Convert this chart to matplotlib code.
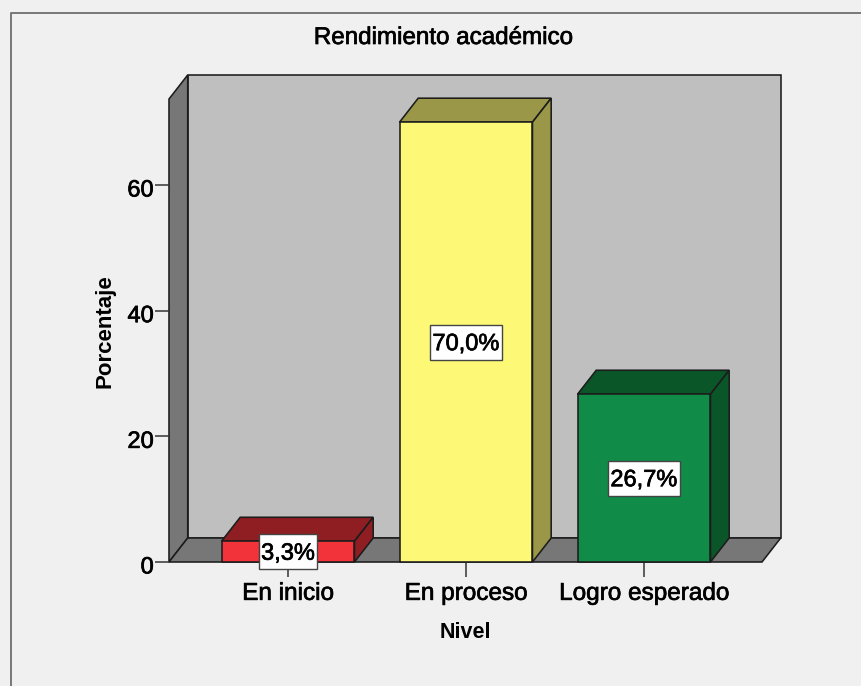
import matplotlib
matplotlib.use('Agg')
import matplotlib.pyplot as plt
import matplotlib.patheffects as pe
from matplotlib.lines import Line2D
from matplotlib.path import Path
from matplotlib.transforms import ScaledTranslation

plt.rcParams['font.family'] = ['Liberation Sans', 'DejaVu Sans']

categories = ['En inicio', 'En proceso', 'Logro esperado']
values = [3.3, 70.0, 26.7]
labels = ['3,3%', '70,0%', '26,7%']
y_ticks = [0, 20, 40, 60]
front_colors = ['#f23339', '#fdf976', '#108c48']
top_colors = ['#8f1e22', '#9a9848', '#0a5628']

W, H = 861, 686
LINE = '#1c1c1c'
LW = 1.15
FS = 17
heavy = [pe.withStroke(linewidth=0.5, foreground='black')]

# front plane of the 3d box, in pixels
left, right, bottom, top = 169, 762, 562, 99
y_max = (bottom - top) / 6.283
bar_w = 0.747
dx = 18.7 / 178   # depth in category units
dy = 24 / 6.283   # depth in percent units

fig = plt.figure(figsize=(W / 100, H / 100), dpi=100, facecolor='#f0f0f0')
ax = fig.add_axes([left / W, 1 - bottom / H, (right - left) / W, (bottom - top) / H])
ax.set_xlim(-119 / 178, 2 + 118 / 178)
ax.set_ylim(0, y_max)
ax.patch.set_visible(False)
for s in ax.spines.values():
    s.set_visible(False)

x0, x1 = ax.get_xlim()


def face(xs, ys, color, z):
    ax.fill(xs, ys, facecolor=color, edgecolor=LINE, linewidth=LW, zorder=z,
            clip_on=False, joinstyle='miter')


def label_box(x, y, width, height, mutation_size):
    # spss label box, much more padding above and below than on the sides
    px, py, lift = 2.5, 6.5, 2
    a, b = x - px, x + width + px
    c, d = y - py + lift, y + height + py + lift
    return Path([(a, c), (b, c), (b, d), (a, d), (a, c)], closed=True)


# walls and floor
face([x0 + dx, x1 + dx, x1 + dx, x0 + dx], [dy, dy, y_max + dy, y_max + dy], '#bfbfbf', 1)
face([x0, x0 + dx, x0 + dx, x0], [0, dy, y_max + dy, y_max], '#777777', 1.1)
face([x0, x1, x1 + dx, x0 + dx], [0, 0, dy, dy], '#777777', 1.1)

# bars
for i, v in enumerate(values):
    a, b = i - bar_w / 2, i + bar_w / 2
    z = 2 + i
    face([a, b, b + dx, a + dx], [v, v, v + dy, v + dy], top_colors[i], z)
    face([b, b + dx, b + dx, b], [0, dy, v + dy, v], top_colors[i], z)
    face([a, b, b, a], [0, 0, v, v], front_colors[i], z + 0.1)
    ax.annotate(labels[i], xy=(i, v / 2), xytext=(0, -1.5), textcoords='offset points',
                ha='center', va='center', fontsize=FS, color='black',
                zorder=10, annotation_clip=False, path_effects=heavy,
                bbox=dict(boxstyle=label_box, facecolor='white', edgecolor='#444444', linewidth=1.0))

ax.set_xticks(range(len(categories)))
ax.set_xticklabels(categories, fontsize=17.5, path_effects=heavy)
ax.set_yticks(y_ticks)
ax.set_yticklabels([str(t) for t in y_ticks], fontsize=FS, path_effects=heavy)
ax.tick_params(axis='x', length=11, width=1.1, color='#333333', pad=4)
ax.tick_params(axis='y', length=10, width=1.1, color='#333333', pad=1)
for t in ax.get_xticklines() + ax.get_yticklines():
    t.set_zorder(5)
# reference y labels sit a little under their ticks
shift = ScaledTranslation(0, -3 / 100, fig.dpi_scale_trans)
for t in ax.get_yticklabels():
    t.set_transform(t.get_transform() + shift)

fig.text(443 / W, 1 - 38 / H, 'Rendimiento académico', ha='center', va='center', fontsize=17.4,
         path_effects=heavy)
fig.text(465 / W, 1 - 633 / H, 'Nivel', ha='center', va='center', fontsize=15.5, fontweight='bold')
fig.text(105 / W, 1 - 331 / H, 'Porcentaje', ha='center', va='center', rotation=90,
         fontsize=16, fontweight='bold')

# outer frame, only left and top are inside the crop
fig.add_artist(Line2D([11 / W, 11 / W, 1], [0, 1 - 13 / H, 1 - 13 / H], color='#6e6e6e', linewidth=1.3))

fig.savefig('out.png', dpi=100, facecolor=fig.get_facecolor())
